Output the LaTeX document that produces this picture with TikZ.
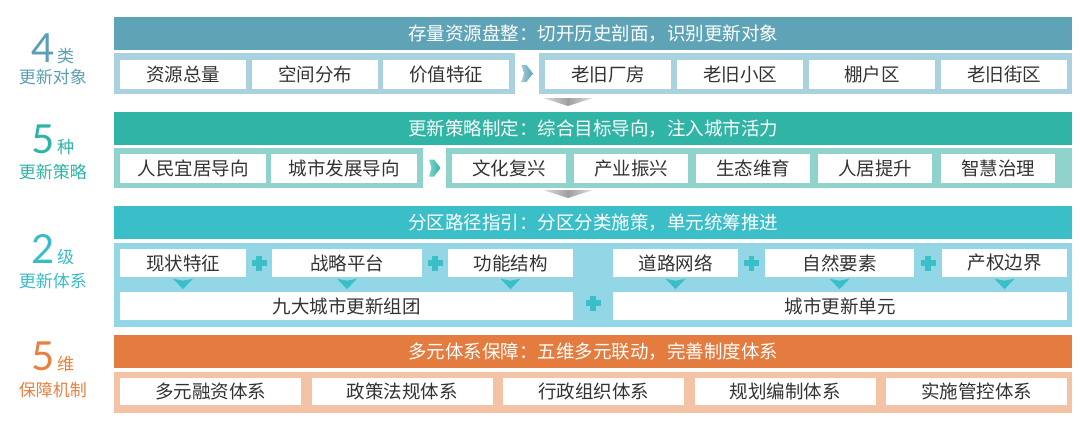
\documentclass[tikz,border=0pt]{standalone}
\usepackage{fontspec}
\setmainfont{Noto Sans CJK SC}
\newfontfamily\digitfont{Lato}
\usetikzlibrary{calc}
\definecolor{hA}{HTML}{5FA3B7}
\definecolor{sA}{HTML}{A9D2DE}
\definecolor{hB}{HTML}{2FB4A6}
\definecolor{sB}{HTML}{8FD3CC}
\definecolor{hC}{HTML}{3ABFC9}
\definecolor{sC}{HTML}{93D6E5}
\definecolor{hD}{HTML}{E47C40}
\definecolor{sD}{HTML}{F4C2A5}
\definecolor{lA}{HTML}{5A9FB5}
\definecolor{lB}{HTML}{2EB4A5}
\definecolor{lC}{HTML}{37BCC8}
\definecolor{lD}{HTML}{E8803F}
\definecolor{txt}{HTML}{333333}
\tikzset{
  hdr/.style={rectangle, inner sep=0pt, minimum height=33pt, minimum width=958pt, text=white, font=\fontsize{18.5}{18.5}\selectfont},
  pnl/.style={rectangle, inner sep=0pt},
  wbox/.style={rectangle, fill=white, inner sep=0pt, minimum height=29pt, text=txt, font=\fontsize{18.5}{18.5}\selectfont},
  lbl/.style={anchor=base, inner sep=0pt},
  pls/.pic={\fill[hC] (-7.5,-2.6) rectangle (7.5,2.6); \fill[hC] (-2.6,-7.5) rectangle (2.6,7.5);},
  gar/.pic={\shade[left color=gray!25, right color=gray!25, middle color=gray!75] (-25,0) -- (25,0) -- (0,8) -- cycle;},
  rar/.pic={\shade[left color=#1!60, right color=#1] (-5.5,-8.5) -- (-0.5,-8.5) -- (6,0) -- (-0.5,8.5) -- (-5.5,8.5) -- (-3,0) -- cycle;},
  dar/.pic={\fill[hC] (-10,0) -- (0,2) -- (10,0) -- (0,10.5) -- cycle;}
}
\begin{document}
\begin{tikzpicture}[x=1pt,y=-1pt]
\useasboundingbox (0,0) rectangle (1080,421);
% ---------- left labels
\node[lbl, text=lA] (n1) at (53,62) {{\digitfont\fontsize{40}{40}\selectfont 4}\hspace{2pt}{\fontsize{17}{17}\selectfont 类}};
\node[lbl, text=lA] (d1) at (53,83) {\fontsize{17}{17}\selectfont 更新对象};
\node[lbl, text=lB] (n2) at (53,153) {{\digitfont\fontsize{40}{40}\selectfont 5}\hspace{2pt}{\fontsize{17}{17}\selectfont 种}};
\node[lbl, text=lB] (d2) at (53,178) {\fontsize{17}{17}\selectfont 更新策略};
\node[lbl, text=lC] (n3) at (53,263) {{\digitfont\fontsize{40}{40}\selectfont 2}\hspace{2pt}{\fontsize{17}{17}\selectfont 级}};
\node[lbl, text=lC] (d3) at (53,287) {\fontsize{17}{17}\selectfont 更新体系};
\node[lbl, text=lD] (n4) at (53,370) {{\digitfont\fontsize{40}{40}\selectfont 5}\hspace{2pt}{\fontsize{17}{17}\selectfont 维}};
\node[lbl, text=lD] (d4) at (53,396) {\fontsize{17}{17}\selectfont 保障机制};
% ---------- row 1
\node[hdr, fill=hA] (h1) at (593,33.5) {存量资源盘整：切开历史剖面，识别更新对象};
\node[pnl, fill=sA, minimum width=401pt, minimum height=41pt] (p1a) at (314.5,73.5) {};
\node[pnl, fill=sA, minimum width=533pt, minimum height=41pt] (p1b) at (805.5,73.5) {};
\node[wbox, minimum width=126pt] (a1) at (183,74.5) {资源总量};
\node[wbox, minimum width=126pt] (a2) at (315,74.5) {空间分布};
\node[wbox, minimum width=126pt] (a3) at (446,74.5) {价值特征};
\node[wbox, minimum width=126pt] (a4) at (608,74.5) {老旧厂房};
\node[wbox, minimum width=126pt] (a5) at (740,74.5) {老旧小区};
\node[wbox, minimum width=126pt] (a6) at (872,74.5) {棚户区};
\node[wbox, minimum width=126pt] (a7) at (1004,74.5) {老旧街区};
\pic at ($(p1a.east)!0.5!(p1b.west)$) {rar=hA};
\pic at (568,98) {gar};
% ---------- row 2
\node[hdr, fill=hB] (h2) at (593,128.5) {更新策略制定：综合目标导向，注入城市活力};
\node[pnl, fill=sB, minimum width=309pt, minimum height=40pt] (p2a) at (268.5,168) {};
\node[pnl, fill=sB, minimum width=626pt, minimum height=40pt] (p2b) at (759,168) {};
\node[wbox, minimum width=146pt] (b1) at (193,168.5) {人民宜居导向};
\node[wbox, minimum width=146pt] (b2) at (344,168.5) {城市发展导向};
\node[wbox, minimum width=114pt] (b3) at (509,168.5) {文化复兴};
\node[wbox, minimum width=114pt] (b4) at (631,168.5) {产业振兴};
\node[wbox, minimum width=114pt] (b5) at (753,168.5) {生态维育};
\node[wbox, minimum width=114pt] (b6) at (875,168.5) {人居提升};
\node[wbox, minimum width=114pt] (b7) at (998,168.5) {智慧治理};
\pic at ($(p2a.east)!0.5!(p2b.west)$) {rar=hB};
\pic at (568,190) {gar};
% ---------- row 3
\node[hdr, fill=hC] (h3) at (593,222.5) {分区路径指引：分区分类施策，单元统筹推进};
\node[pnl, fill=sC, minimum width=958pt, minimum height=84pt] (p3) at (593,285) {};
\node[wbox, minimum width=126pt, minimum height=28pt] (c1) at (183,263) {现状特征};
\node[wbox, minimum width=150pt, minimum height=28pt] (c2) at (347,263) {战略平台};
\node[wbox, minimum width=125pt, minimum height=28pt] (c3) at (510.5,263) {功能结构};
\node[wbox, minimum width=125pt, minimum height=28pt] (c4) at (675.5,263) {道路网络};
\node[wbox, minimum width=149pt, minimum height=28pt] (c5) at (839.5,263) {自然要素};
\node[wbox, minimum width=125pt, minimum height=28pt] (c6) at (1004.5,263) {产权边界};
\node[wbox, minimum width=453pt, minimum height=28pt] (g1) at (346.5,306) {九大城市更新组团};
\node[wbox, minimum width=454pt, minimum height=28pt] (g2) at (840,306) {城市更新单元};
\pic at ($(c1.east)!0.5!(c2.west)$) {pls};
\pic at ($(c2.east)!0.5!(c3.west)$) {pls};
\pic at ($(c4.east)!0.5!(c5.west)$) {pls};
\pic at ($(c5.east)!0.5!(c6.west)$) {pls};
\pic at ($(g1.east)!0.5!(g2.west)+(0,-3)$) {pls};
\foreach \n in {c1,c2,c3,c4,c5,c6} { \pic at ($(\n.south)+(0,1.5)$) {dar}; }
% ---------- row 4
\node[hdr, fill=hD] (h4) at (593,351.5) {多元体系保障：五维多元联动，完善制度体系};
\node[pnl, fill=sD, minimum width=958pt, minimum height=41pt] (p4) at (593,392.5) {};
\node[wbox, minimum width=181pt, minimum height=27pt] (e1) at (210.5,391) {多元融资体系};
\node[wbox, minimum width=181pt, minimum height=27pt] (e2) at (402,391) {政策法规体系};
\node[wbox, minimum width=181pt, minimum height=27pt] (e3) at (593.5,391) {行政组织体系};
\node[wbox, minimum width=181pt, minimum height=27pt] (e4) at (785,391) {规划编制体系};
\node[wbox, minimum width=181pt, minimum height=27pt] (e5) at (976.5,391) {实施管控体系};
\end{tikzpicture}
\end{document}
